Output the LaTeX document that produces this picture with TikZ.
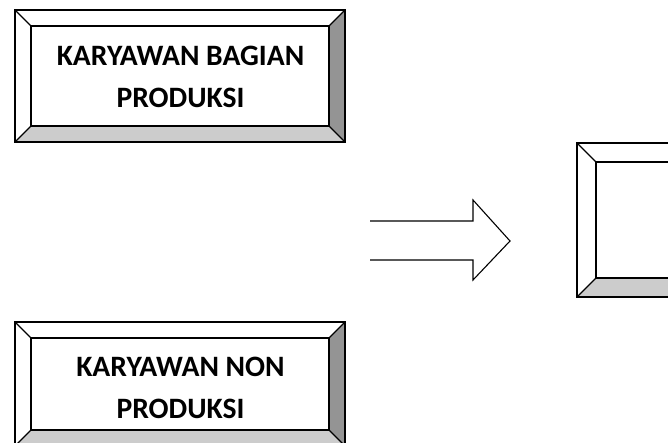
\documentclass[tikz,border=0pt]{standalone}
\usepackage{fontspec}
\setmainfont{Carlito}

% bevelled frame: #1,#2 = outer top left, #3,#4 = outer bottom right, #5 = bevel
\newcommand{\bevelframe}[5]{%
\fill[bevtop] (#1,#2) rectangle (#3,#4);
\fill[bevright] (#3,#2) -- (#3-#5,#2+#5) -- (#3-#5,#4-#5) -- (#3,#4) -- cycle;
\fill[bevbottom] (#1,#4) -- (#1+#5,#4-#5) -- (#3-#5,#4-#5) -- (#3,#4) -- cycle;
\draw[frameline] (#1,#2) rectangle (#3,#4);
\draw[frameline] (#1+#5,#2+#5) rectangle (#3-#5,#4-#5);
\draw[frameline] (#1,#2) -- (#1+#5,#2+#5);
\draw[frameline] (#3,#2) -- (#3-#5,#2+#5);
\draw[frameline] (#1,#4) -- (#1+#5,#4-#5);
\draw[frameline] (#3,#4) -- (#3-#5,#4-#5);
}

\begin{document}
\begin{tikzpicture}[x=1pt,y=-1pt,
  frameline/.style={black,line width=1.1pt},
  bevtop/.style={white},
  bevright/.style={fill=black!42},
  bevbottom/.style={fill=black!20},
  boxtext/.style={align=center,font=\fontsize{29.6}{42}\selectfont\bfseries}]
\useasboundingbox (0,0) rectangle (668,443);
\clip (0,0) rectangle (668,443);

% frames
\bevelframe{15}{10}{345}{142}{16}
\bevelframe{15}{322}{345}{446}{16}
\bevelframe{577}{143}{720}{297}{19}

% labels
\node[boxtext] (prod) at (180.5,77) {KARYAWAN BAGIAN\\PRODUKSI};
\node[boxtext] (nonprod) at (180.5,388) {KARYAWAN NON\\PRODUKSI};

% block arrow
\draw[frameline,fill=white] (370,221) -- (473,221) -- (473,200) -- (510,241)
  -- (473,280) -- (473,260) -- (370,260);
\end{tikzpicture}
\end{document}
